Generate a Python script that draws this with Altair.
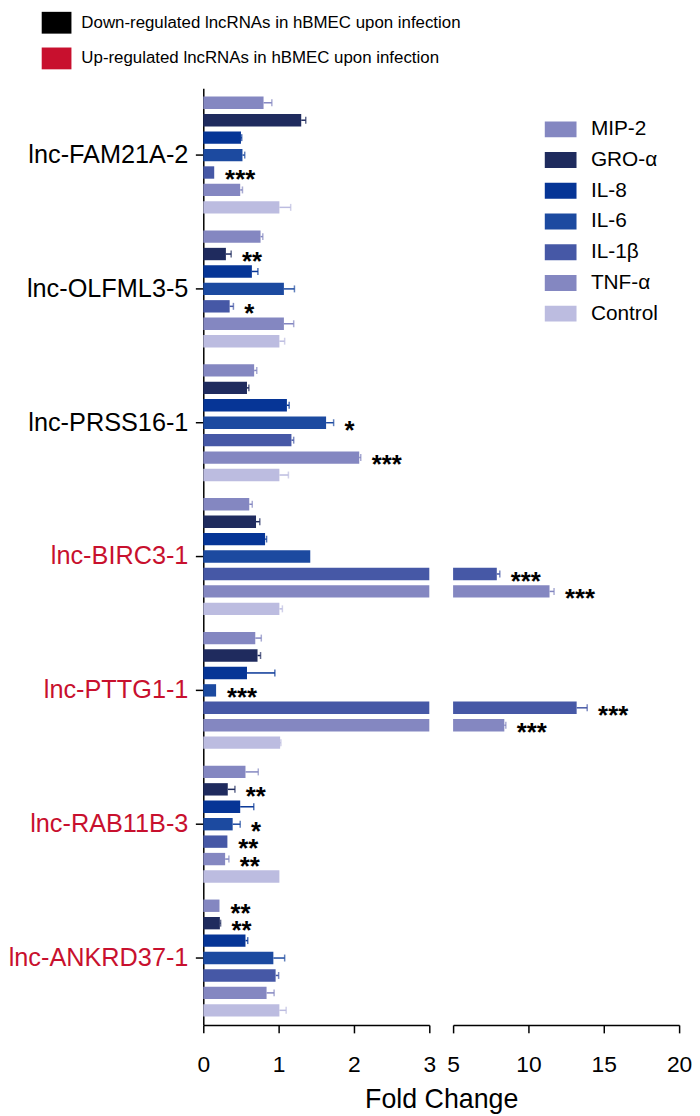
import altair as alt
import pandas as pd

genes = ["lnc-FAM21A-2", "lnc-OLFML3-5", "lnc-PRSS16-1", "lnc-BIRC3-1",
         "lnc-PTTG1-1", "lnc-RAB11B-3", "lnc-ANKRD37-1"]
regulation = ["Down-regulated lncRNAs in hBMEC upon infection"] * 3 + \
             ["Up-regulated lncRNAs in hBMEC upon infection"] * 4
reg_levels = ["Down-regulated lncRNAs in hBMEC upon infection",
              "Up-regulated lncRNAs in hBMEC upon infection"]
reg_colors = ["#000000", "#C8102E"]

cytokines = ["MIP-2", "GRO-α", "IL-8", "IL-6", "IL-1β", "TNF-α", "Control"]
cyto_colors = ["#8487C1", "#1F2B5E", "#063596", "#1C4AA0", "#4658A6", "#8487C1", "#BCBCE0"]

# fold change per gene, in cytokine order
fam21a_2 = [0.80, 1.30, 0.50, 0.52, 0.145, 0.49, 1.01]
olfml3_5 = [0.76, 0.30, 0.645, 1.07, 0.35, 1.07, 1.01]
prss16_1 = [0.675, 0.58, 1.11, 1.63, 1.17, 2.07, 1.01]
birc3_1 = [0.61, 0.70, 0.82, 1.42, 7.9, 11.4, 1.01]
pttg1_1 = [0.69, 0.72, 0.58, 0.17, 13.2, 8.4, 1.02]
rab11b_3 = [0.56, 0.325, 0.49, 0.39, 0.32, 0.29, 1.01]
ankrd37_1 = [0.215, 0.22, 0.56, 0.93, 0.96, 0.84, 1.01]

# error (upper whisker length)
fam21a_2_err = [0.11, 0.06, 0.01, 0.03, 0.0, 0.03, 0.15]
olfml3_5_err = [0.03, 0.07, 0.08, 0.14, 0.05, 0.13, 0.07]
prss16_1_err = [0.035, 0.025, 0.03, 0.10, 0.03, 0.02, 0.12]
birc3_1_err = [0.04, 0.05, 0.02, 0.0, 0.2, 0.3, 0.04]
pttg1_1_err = [0.08, 0.04, 0.37, 0.0, 0.7, 0.1, 0.01]
rab11b_3_err = [0.17, 0.095, 0.18, 0.10, 0.0, 0.05, 0.0]
ankrd37_1_err = [0.0, 0.01, 0.03, 0.15, 0.04, 0.10, 0.09]

# significance marks
fam21a_2_sig = ["", "", "", "", "***", "", ""]
olfml3_5_sig = ["", "**", "", "", "*", "", ""]
prss16_1_sig = ["", "", "", "*", "", "***", ""]
birc3_1_sig = ["", "", "", "", "***", "***", ""]
pttg1_1_sig = ["", "", "", "***", "***", "***", ""]
rab11b_3_sig = ["", "**", "", "*", "**", "**", ""]
ankrd37_1_sig = ["**", "**", "", "", "", "", ""]

vals = [fam21a_2, olfml3_5, prss16_1, birc3_1, pttg1_1, rab11b_3, ankrd37_1]
errs = [fam21a_2_err, olfml3_5_err, prss16_1_err, birc3_1_err, pttg1_1_err, rab11b_3_err, ankrd37_1_err]
sigs = [fam21a_2_sig, olfml3_5_sig, prss16_1_sig, birc3_1_sig, pttg1_1_sig, rab11b_3_sig, ankrd37_1_sig]

rows = []
for g, vs, es, ss in zip(genes, vals, errs, sigs):
    for c, v, e, s in zip(cytokines, vs, es, ss):
        rows.append({"gene": g, "cytokine": c, "value": v, "upper": v + e, "star": s})
df = pd.DataFrame(rows)
reg_df = pd.DataFrame({"gene": genes, "regulation": regulation})

FONT = "Liberation Sans"
HEIGHT = 945
W = 228

y_scale = alt.Scale(domain=genes, paddingInner=0.126, paddingOuter=0.063)
yoff = alt.YOffset("cytokine:N", scale=alt.Scale(domain=cytokines, paddingInner=0.29, paddingOuter=0))

y_left = alt.Y("gene:N", scale=y_scale,
               axis=alt.Axis(labels=False, title=None, tickSize=8, tickWidth=1.5,
                             tickColor="black", domainColor="black", domainWidth=1.5, grid=False))
y_right = alt.Y("gene:N", scale=y_scale, axis=None)

color_left = alt.Color("cytokine:N", scale=alt.Scale(domain=cytokines, range=cyto_colors),
                       legend=alt.Legend(title=None, orient="none", legendX=346, legendY=27,
                                         symbolType="M-1.115,-0.557H1.115V0.557H-1.115Z",
                                         symbolSize=824, symbolStrokeWidth=0, symbolOpacity=1,
                                         labelFontSize=21, labelFont=FONT, labelColor="black",
                                         labelOffset=16, rowPadding=6, padding=0))
color_right = alt.Color("cytokine:N", scale=alt.Scale(domain=cytokines, range=cyto_colors), legend=None)

x_axis_common = dict(tickSize=8, tickWidth=1.5, tickColor="black", domainColor="black",
                     domainWidth=1.5, labelFontSize=23, labelFont=FONT, labelColor="black",
                     labelPadding=21, grid=False, labelFlush=False)

xL_scale = alt.Scale(domain=[0, 3], clamp=True, nice=False, zero=True)
xL = alt.X("value:Q", scale=xL_scale,
           axis=alt.Axis(values=[0, 1, 2, 3], format="d", title="Fold Change", titleFontSize=27,
                         titleFont=FONT, titleFontWeight="normal", titleColor="black",
                         titleX=240, titleAlign="center", titlePadding=10, **x_axis_common))

bars_l = alt.Chart(df).mark_bar().encode(x=xL, y=y_left, yOffset=yoff, color=color_left)
err_l = alt.Chart(df).transform_filter("datum.value <= 3 && datum.upper > datum.value").mark_rule(
    strokeWidth=1.5).encode(x=alt.X("value:Q", scale=xL_scale), x2="upper:Q", y=y_left, yOffset=yoff,
                            color=color_left)
cap_l = alt.Chart(df).transform_filter("datum.value <= 3 && datum.upper > datum.value").mark_tick(
    orient="vertical", size=7, thickness=1.5).encode(x=alt.X("upper:Q", scale=xL_scale), y=y_left,
                                                     yOffset=yoff, color=color_left)
star_l = alt.Chart(df).transform_filter("datum.value <= 3 && datum.star != ''").mark_text(
    align="left", baseline="alphabetic", dx=11, dy=16, fontSize=26, fontWeight="bold",
    font=FONT, color="black").encode(x=alt.X("upper:Q", scale=xL_scale), y=y_left, yOffset=yoff,
                                     text="star:N")
labels = alt.Chart(reg_df).mark_text(align="right", baseline="middle", dx=-15, fontSize=25.5,
                                     font=FONT).encode(
    x=alt.value(0), y=y_left, text="gene:N",
    fill=alt.Fill("regulation:N", scale=alt.Scale(domain=reg_levels, range=reg_colors),
                  legend=alt.Legend(title=None, orient="none", legendX=-158, legendY=-76,
                                    symbolType="M-1.5,-1.1H1.5V1.1H-1.5Z",
                                    symbolSize=400, symbolStrokeWidth=0, symbolOpacity=1,
                                    labelFontSize=17, labelFont=FONT, labelColor="black",
                                    labelOffset=15, rowPadding=14, padding=0, labelLimit=600)))

left = alt.layer(bars_l, err_l, cap_l, star_l, labels).properties(width=W, height=HEIGHT)

xR_scale = alt.Scale(domain=[5, 20], nice=False, zero=False)
xR = alt.X("value:Q", scale=xR_scale,
           axis=alt.Axis(values=[5, 10, 15, 20], title=None, **x_axis_common))
bars_r = alt.Chart(df).transform_filter("datum.value > 3").mark_bar().encode(
    x=xR, x2=alt.datum(5), y=y_right, yOffset=yoff, color=color_right)
err_r = alt.Chart(df).transform_filter("datum.value > 3 && datum.upper > datum.value").mark_rule(
    strokeWidth=1.5).encode(x=alt.X("value:Q", scale=xR_scale), x2="upper:Q", y=y_right,
                            yOffset=yoff, color=color_right)
cap_r = alt.Chart(df).transform_filter("datum.value > 3 && datum.upper > datum.value").mark_tick(
    orient="vertical", size=7, thickness=1.5).encode(x=alt.X("upper:Q", scale=xR_scale), y=y_right,
                                                     yOffset=yoff, color=color_right)
star_r = alt.Chart(df).transform_filter("datum.value > 3 && datum.star != ''").mark_text(
    align="left", baseline="alphabetic", dx=11, dy=16, fontSize=26, fontWeight="bold",
    font=FONT, color="black").encode(x=alt.X("upper:Q", scale=xR_scale), y=y_right, yOffset=yoff,
                                     text="star:N")
right = alt.layer(bars_r, err_r, cap_r, star_r).properties(width=W, height=HEIGHT)

chart = alt.hconcat(left, right, spacing=24, bounds="flush").resolve_scale(
    x="independent", y="independent", color="independent"
).properties(padding=0).configure(font=FONT).configure_view(stroke=None)

chart.save("out.html", embed_options={"renderer": "svg", "actions": False})
